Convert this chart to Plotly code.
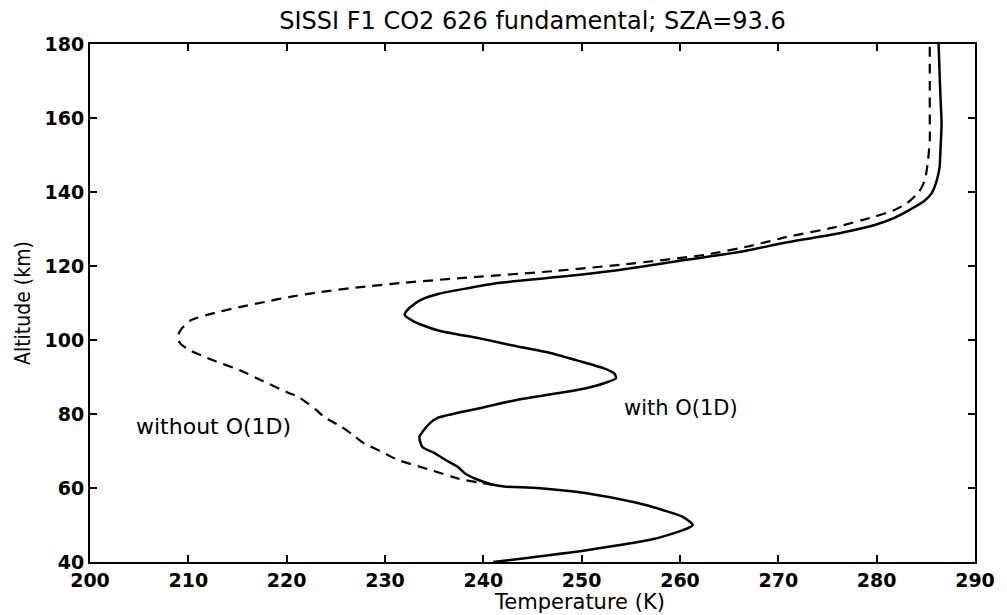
import plotly.graph_objects as go

# with O(1D)  (solid)
alt_with = [40, 43.2, 46.2, 48.6, 50.0, 52.2, 54, 56, 58.6, 60, 60.4, 61, 62.5, 64, 65.7,
            67.5, 69.5, 71.1, 73.8, 75.8, 77.6, 79, 81.5, 83.8, 86.8, 88.5, 89.7, 91, 92.4,
            94.5, 96.5, 98.5, 100.5, 102.5, 104.9, 106.8, 108.5, 110.8, 112.5, 114, 115.4,
            117, 119, 121.6, 124, 126.2, 128.5, 131.1, 133, 135.1, 137.5, 139.7, 143, 146.8,
            152, 158.6, 165, 172, 180]
t_with = [241.0, 250.5, 257.3, 260.3, 261.3, 260.3, 258.3, 255.6, 250.5, 245.5, 242.1, 240.8,
          239.2, 238.1, 237.4, 236.2, 235.0, 233.8, 233.5, 234.0, 234.6, 235.4, 239.5, 243.4,
          250.2, 252.5, 253.5, 253.3, 252.2, 249.5, 246.8, 243.0, 239.5, 235.5, 233.0, 232.0,
          232.4, 233.6, 235.5, 238.4, 241.5, 247.5, 254.0, 260.5, 266.5, 270.5, 275.5, 279.8,
          281.8, 283.3, 284.8, 285.6, 286.1, 286.4, 286.5, 286.6, 286.5, 286.4, 286.3]

# without O(1D)  (dashed)
alt_without = [60.8, 61.4, 62.5, 64.9, 67.6, 69.6, 72.2, 73.8, 76.5, 79.2, 81.1, 84.6, 85.7,
               89, 91.9, 94.5, 97.3, 99, 100.8, 103, 105.4, 107.2, 108.9, 110.3, 111.6, 113,
               114.3, 115.5, 117, 118.7, 120.5, 123, 125.5, 127.8, 130.5, 133.2, 135, 137,
               140, 143.2, 148, 154, 160, 167.6, 180]
t_without = [241.0, 239.7, 237.5, 234.6, 231.3, 229.8, 227.8, 227.0, 225.6, 223.8, 223.0,
             221.2, 220.2, 217.5, 215.2, 212.5, 210.1, 209.2, 208.9, 209.3, 210.3, 212.5,
             215.2, 217.8, 220.2, 223.5, 227.5, 232.0, 239.0, 247.5, 254.5, 262.5, 267.3,
             270.8, 275.8, 279.6, 281.7, 283.1, 284.3, 284.9, 285.2, 285.4, 285.4, 285.4, 285.4]

x_ticks = [200, 210, 220, 230, 240, 250, 260, 270, 280, 290]
y_ticks = [40, 60, 80, 100, 120, 140, 160, 180]

FONT = "DejaVu Sans, Liberation Sans, sans-serif"
NARROW = "Liberation Sans Narrow, DejaVu Sans Condensed, sans-serif"

fig = go.Figure()

fig.add_trace(go.Scatter(
    x=t_with, y=alt_with, mode="lines",
    line=dict(color="black", width=2.5, shape="spline", smoothing=0.6),
    showlegend=False
))
fig.add_trace(go.Scatter(
    x=t_without, y=alt_without, mode="lines",
    line=dict(color="black", width=2.2, dash="10px,7px", shape="spline", smoothing=0.6),
    showlegend=False
))

fig.add_annotation(x=212.6, y=76.5, text="without O(1D)", showarrow=False,
                   font=dict(size=22, color="black", family=FONT))
fig.add_annotation(x=260.1, y=81.6, text="with O(1D)", showarrow=False,
                   font=dict(size=21, color="black", family=FONT))
# x label sits a little right of centre in the original
fig.add_annotation(x=0.553, y=0, xref="paper", yref="paper", yshift=-40,
                   text="Temperature (K)", showarrow=False, yanchor="middle",
                   font=dict(size=21, color="black", family=FONT))

axis_common = dict(
    showline=True, linecolor="black", linewidth=2, mirror="ticks",
    ticks="inside", ticklen=7, tickwidth=1.5, tickcolor="black",
    showgrid=False, zeroline=False,
    tickfont=dict(size=19, color="black", family=FONT, weight="bold"),
)

# page body has an 8px margin, so the figure is a bit smaller than the window
fig.update_layout(
    width=999, height=607,
    paper_bgcolor="white", plot_bgcolor="white",
    margin=dict(l=82, r=20, t=36, b=53),
    title=dict(text="SISSI F1 CO2 626 fundamental; SZA=93.6", x=0.525, xanchor="center",
               y=0.980, yanchor="middle",
               font=dict(size=24, color="black", family=FONT)),
    xaxis=dict(range=[200, 290], tickvals=x_ticks, **axis_common),
    yaxis=dict(range=[40, 180], tickvals=y_ticks,
               title=dict(text="Altitude (km)", standoff=8,
                          font=dict(size=21, color="black", family=NARROW)),
               **axis_common),
)

fig.write_html("out.html")
